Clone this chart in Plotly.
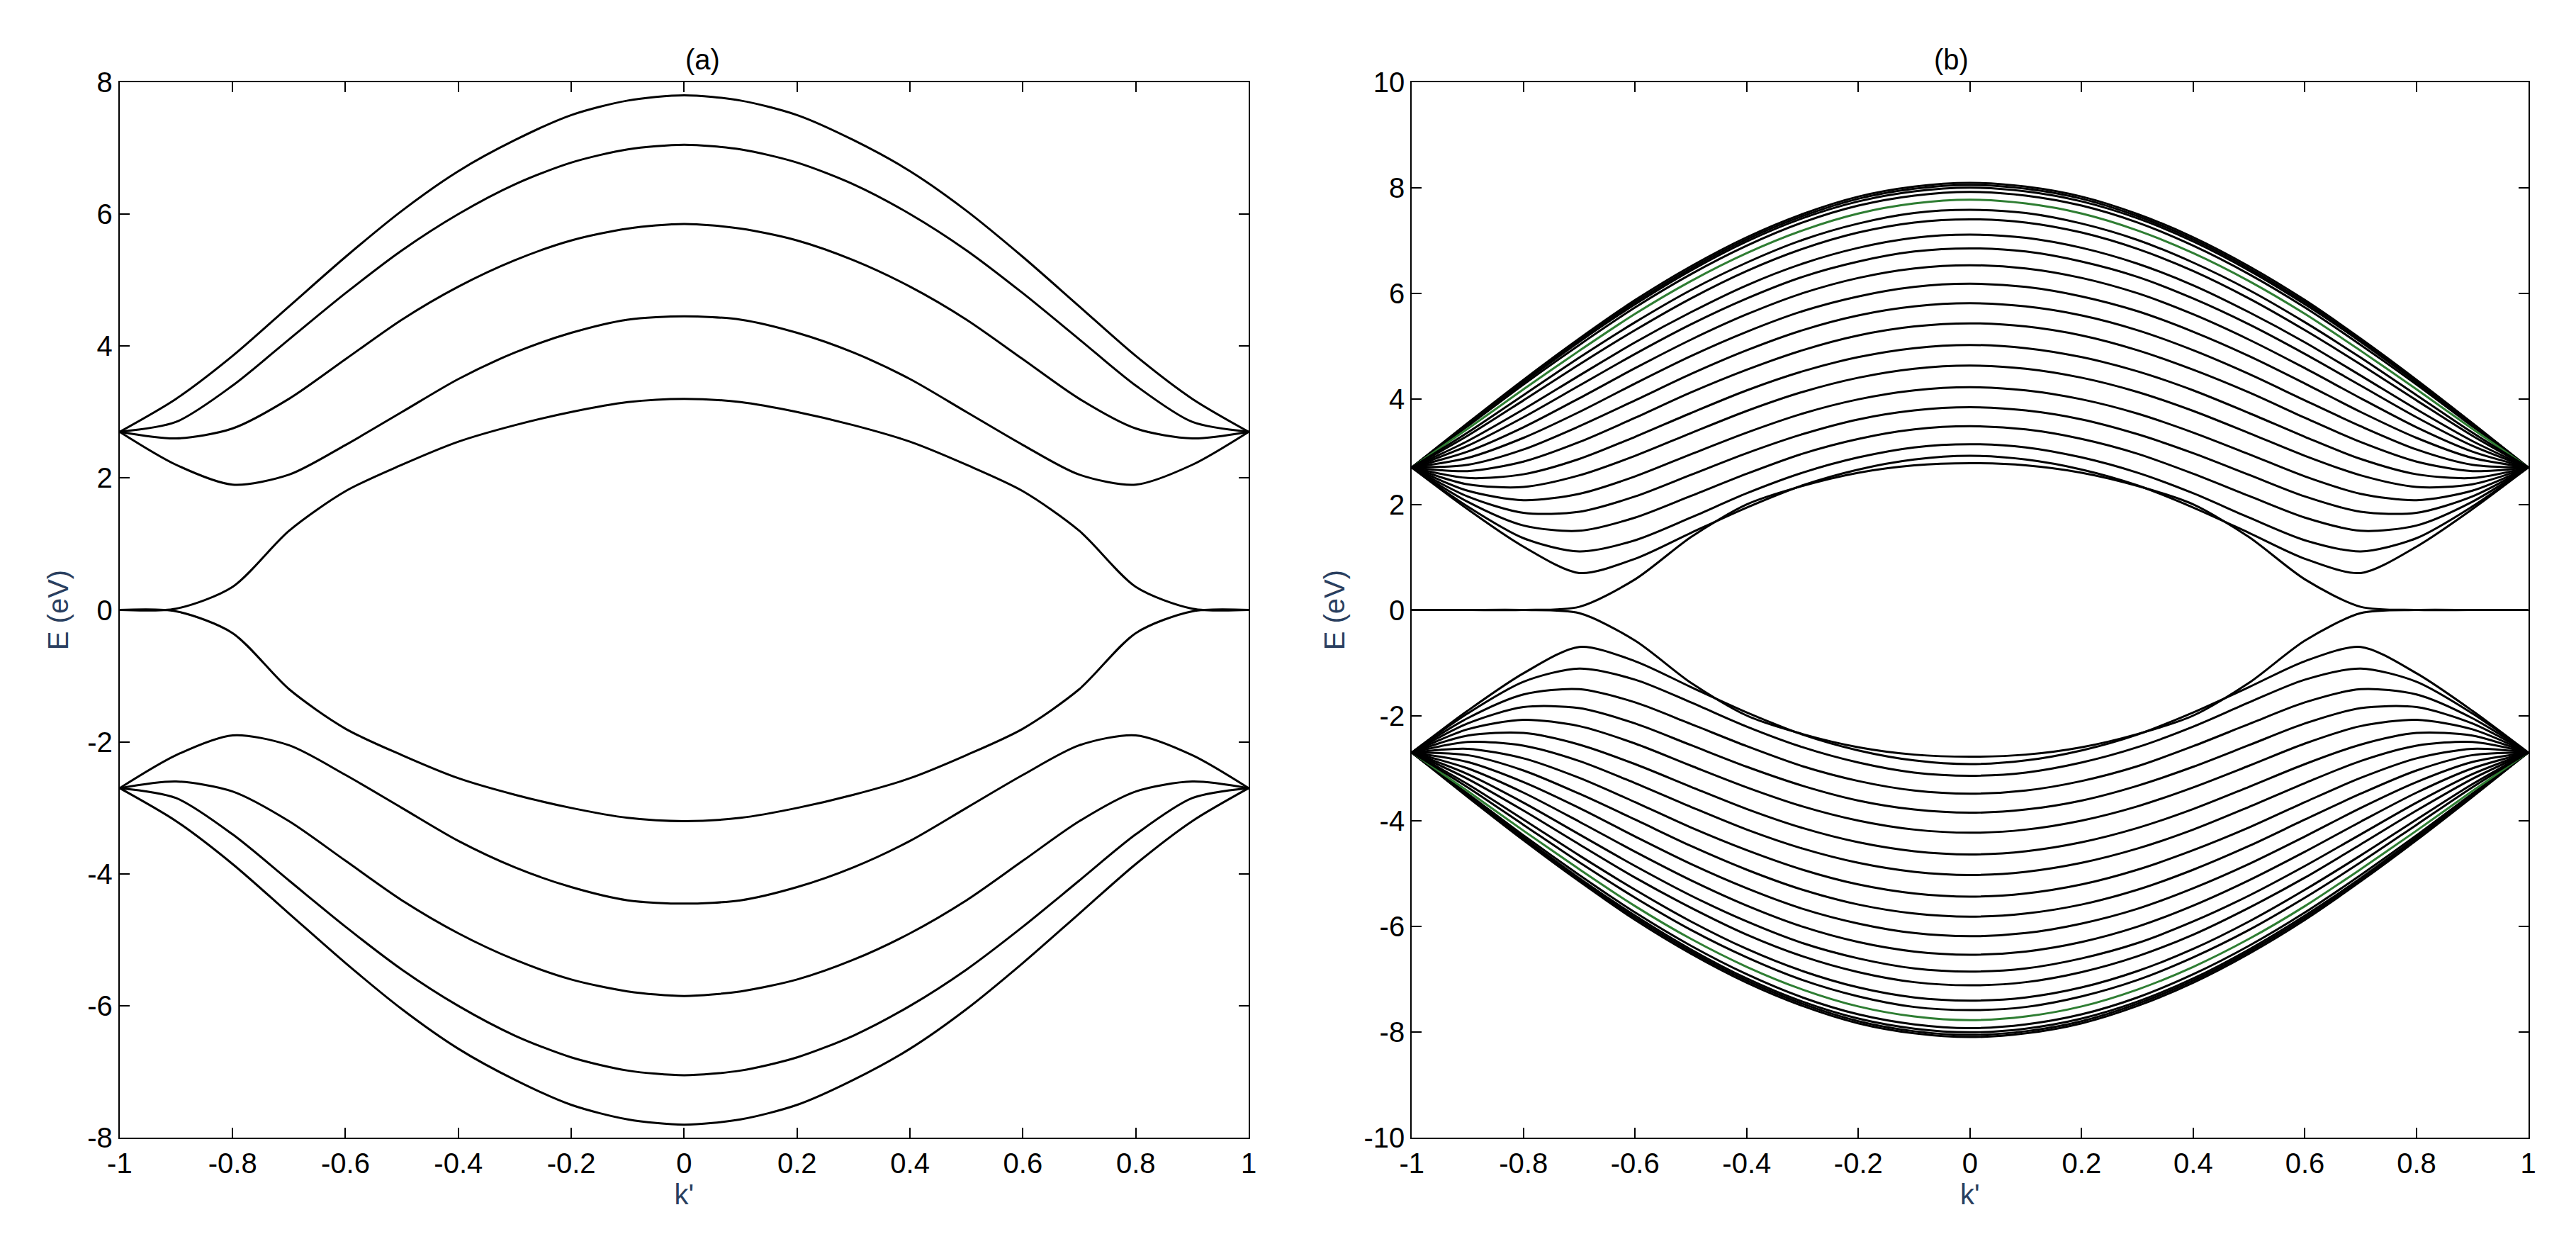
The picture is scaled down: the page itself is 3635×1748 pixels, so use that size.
import plotly.graph_objects as go

# k' grid for the half 0..1 (bands are symmetric in k'; mirrored for -1..0)
k_half = [0.0, 0.1, 0.2, 0.3, 0.4, 0.5, 0.6, 0.7, 0.8, 0.9, 1.0]

# Panel (a): positive-energy bands (negative bands are their mirror in E)
a_band1 = [7.8, 7.72, 7.5, 7.12, 6.65, 6.05, 5.35, 4.6, 3.85, 3.2, 2.7]
a_band2 = [7.05, 6.98, 6.78, 6.45, 6.0, 5.45, 4.8, 4.1, 3.4, 2.85, 2.7]
a_band3 = [5.85, 5.78, 5.6, 5.3, 4.9, 4.4, 3.8, 3.2, 2.75, 2.6, 2.7]
a_band4 = [4.45, 4.4, 4.2, 3.9, 3.5, 3.0, 2.5, 2.05, 1.9, 2.2, 2.7]
a_band5 = [3.2, 3.15, 3.0, 2.8, 2.55, 2.2, 1.8, 1.2, 0.35, 0.02, 0.0]
a_bands = [a_band1, a_band2, a_band3, a_band4, a_band5]

# Panel (b): positive-energy bands
b_bands = [
    [8.09, 8.02, 7.83, 7.50, 7.06, 6.51, 5.87, 5.14, 4.36, 3.54, 2.7],
    [8.05, 7.98, 7.79, 7.46, 7.02, 6.47, 5.83, 5.11, 4.34, 3.53, 2.7],
    [8.00, 7.93, 7.74, 7.42, 6.98, 6.43, 5.79, 5.08, 4.31, 3.51, 2.7],
    [7.92, 7.85, 7.66, 7.34, 6.90, 6.36, 5.73, 5.02, 4.27, 3.48, 2.7],
    [7.77, 7.70, 7.51, 7.19, 6.76, 6.23, 5.61, 4.91, 4.18, 3.43, 2.7],
    [7.58, 7.52, 7.32, 7.01, 6.58, 6.06, 5.45, 4.78, 4.07, 3.36, 2.7],
    [7.40, 7.34, 7.15, 6.84, 6.42, 5.90, 5.30, 4.65, 3.97, 3.30, 2.7],
    [7.11, 7.05, 6.86, 6.56, 6.15, 5.64, 5.07, 4.44, 3.80, 3.20, 2.7],
    [6.85, 6.79, 6.60, 6.31, 5.90, 5.41, 4.85, 4.25, 3.65, 3.11, 2.7],
    [6.53, 6.47, 6.29, 6.00, 5.60, 5.12, 4.58, 4.01, 3.46, 3.00, 2.7],
    [6.18, 6.12, 5.94, 5.66, 5.27, 4.81, 4.29, 3.75, 3.26, 2.88, 2.7],
    [5.81, 5.75, 5.58, 5.30, 4.92, 4.47, 3.97, 3.48, 3.04, 2.75, 2.7],
    [5.43, 5.37, 5.20, 4.92, 4.55, 4.12, 3.64, 3.18, 2.81, 2.63, 2.7],
    [5.02, 4.96, 4.79, 4.52, 4.16, 3.73, 3.28, 2.86, 2.57, 2.50, 2.7],
    [4.63, 4.57, 4.40, 4.13, 3.77, 3.35, 2.92, 2.55, 2.33, 2.38, 2.7],
    [4.22, 4.16, 3.99, 3.72, 3.36, 2.95, 2.53, 2.20, 2.08, 2.26, 2.7],
    [3.84, 3.78, 3.61, 3.33, 2.97, 2.56, 2.15, 1.86, 1.84, 2.15, 2.7],
    [3.48, 3.42, 3.24, 2.96, 2.58, 2.16, 1.75, 1.50, 1.60, 2.05, 2.7],
    [3.14, 3.08, 2.89, 2.60, 2.21, 1.75, 1.32, 1.11, 1.36, 1.96, 2.7],
    [2.92, 2.85, 2.66, 2.36, 1.94, 1.46, 0.97, 0.70, 1.20, 1.91, 2.7],
    [2.78, 2.74, 2.60, 2.35, 2.00, 1.38, 0.58, 0.06, 0.0, 0.0, 0.0],
]
b_green_index = 4

x_ticks = [-1, -0.8, -0.6, -0.4, -0.2, 0, 0.2, 0.4, 0.6, 0.8, 1]
x_ticklabels = ["-1", "-0.8", "-0.6", "-0.4", "-0.2", "0", "0.2", "0.4", "0.6", "0.8", "1"]
a_yticks = [-8, -6, -4, -2, 0, 2, 4, 6, 8]
b_yticks = [-10, -8, -6, -4, -2, 0, 2, 4, 6, 8, 10]
titles = ["(a)", "(b)"]

k_full = [-v for v in k_half[::-1]] + k_half[1:]


def full(vals):
    return vals[::-1] + vals[1:]


fig = go.Figure()
FONT = "Liberation Sans, Arial, sans-serif"


def add_band(vals, xa, ya, color):
    for sgn in (1, -1):
        fig.add_trace(go.Scatter(
            x=k_full, y=[sgn * v for v in full(vals)], mode="lines",
            line=dict(color=color, width=3, shape="spline", smoothing=0.8),
            xaxis=xa, yaxis=ya, showlegend=False, hoverinfo="skip"))


for b in a_bands:
    add_band(b, "x", "y", "black")
for i, b in enumerate(b_bands):
    add_band(b, "x2", "y2", "#2e7d32" if i == b_green_index else "black")

axis_common = dict(showline=True, linecolor="black", linewidth=2, mirror="ticks",
                   ticks="inside", ticklen=14, tickwidth=2, tickcolor="black",
                   showgrid=False, zeroline=False,
                   tickfont=dict(family=FONT, size=40, color="black"))
ydom = [1 - 1616 / 1748, 1 - 88 / 1748]
xdoms = [[144 / 3635, 1750 / 3635], [1982 / 3635, 3570 / 3635]]

fig.update_layout(
    width=3635, height=1748, paper_bgcolor="white", plot_bgcolor="white",
    margin=dict(l=0, r=0, t=0, b=0),
    xaxis=dict(domain=xdoms[0], range=[-1, 1], tickvals=x_ticks, ticktext=x_ticklabels,
               title=dict(text="k'", font=dict(family=FONT, size=40), standoff=6), anchor="y", **axis_common),
    yaxis=dict(domain=ydom, range=[-8, 8], tickvals=a_yticks, ticktext=[str(v) for v in a_yticks],
               title=dict(text="E (eV)", font=dict(family=FONT, size=40), standoff=14), anchor="x", **axis_common),
    xaxis2=dict(domain=xdoms[1], range=[-1, 1], tickvals=x_ticks, ticktext=x_ticklabels,
                title=dict(text="k'", font=dict(family=FONT, size=40), standoff=6), anchor="y2", **axis_common),
    yaxis2=dict(domain=ydom, range=[-10, 10], tickvals=b_yticks, ticktext=[str(v) for v in b_yticks],
                title=dict(text="E (eV)", font=dict(family=FONT, size=40), standoff=14), anchor="x2", **axis_common),
)
for t, d in zip(titles, xdoms):
    fig.add_annotation(text=t, x=(d[0] + d[1]) / 2, y=ydom[1], xref="paper", yref="paper",
                       yshift=8, yanchor="bottom", showarrow=False,
                       font=dict(family=FONT, size=40, color="black"))

fig.write_html("out.html")
